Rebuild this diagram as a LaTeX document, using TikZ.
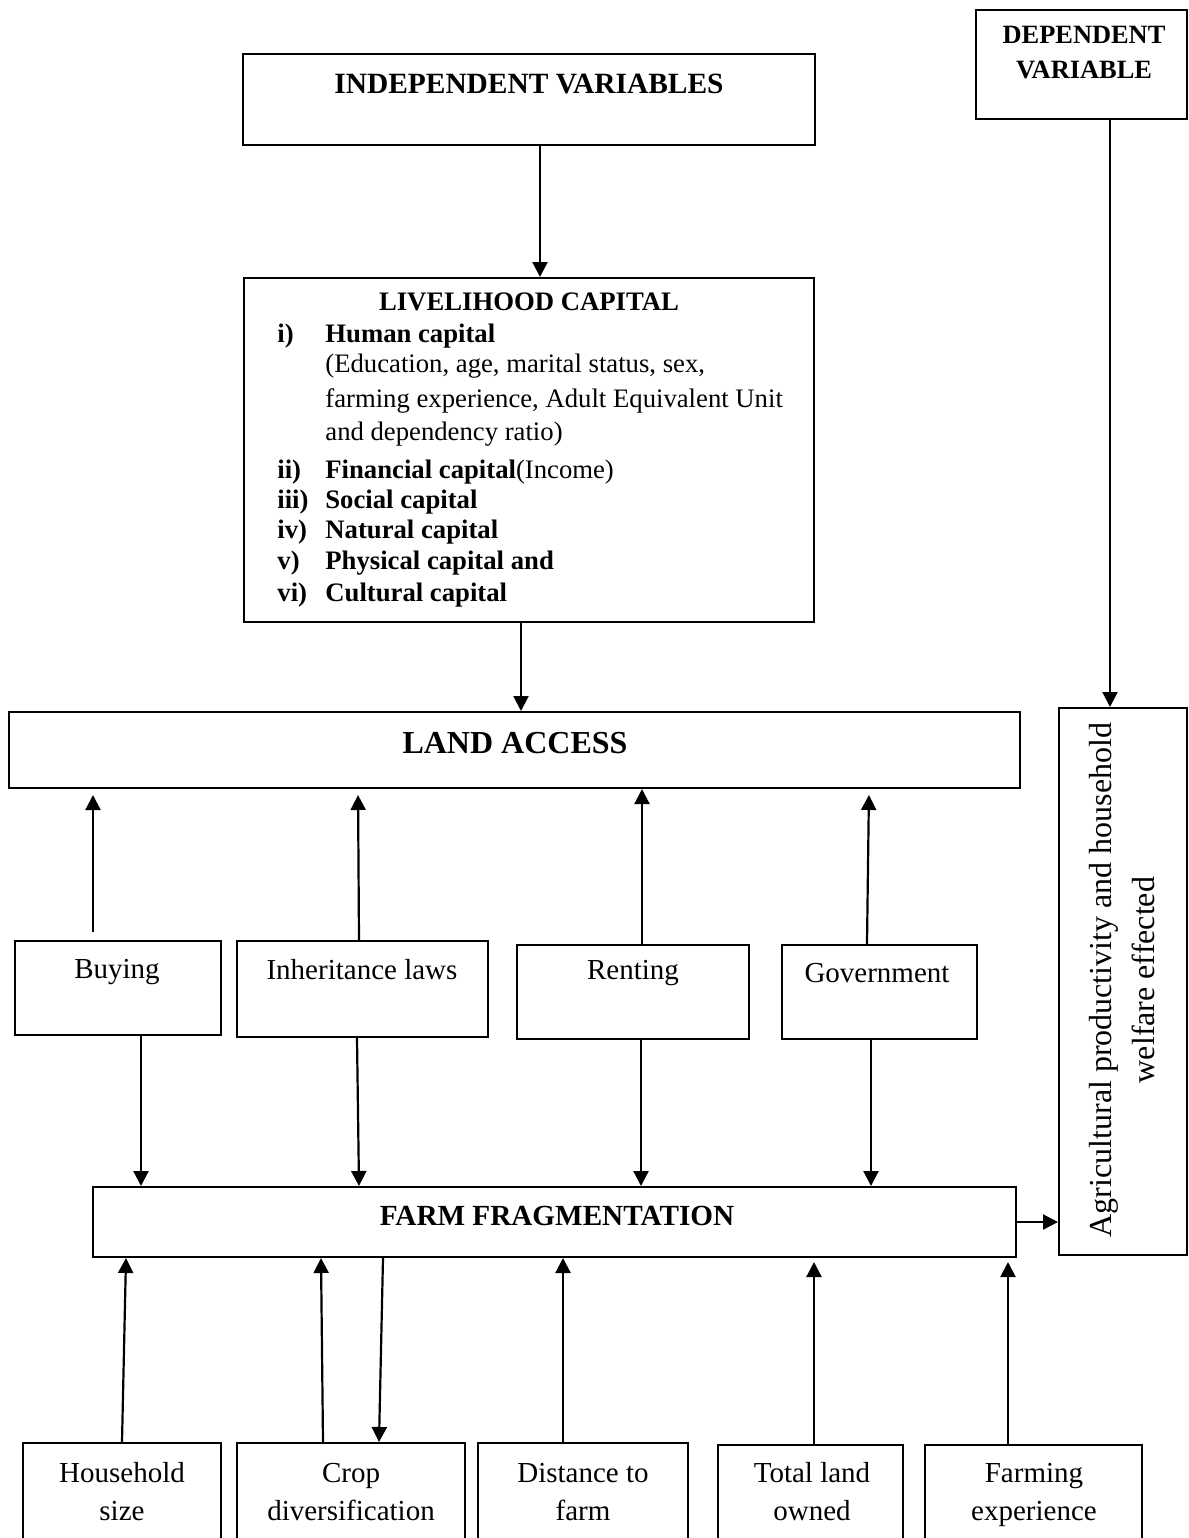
\documentclass[tikz,border=0pt]{standalone}
\usepackage{fontspec}
\setmainfont{Liberation Serif}
\usetikzlibrary{arrows.meta}
\begin{document}
\begin{tikzpicture}[x=0.5pt,y=-0.5pt,
  box/.style={draw, line width=1pt, inner sep=0pt},
  lbl/.style={inner sep=0pt, align=center},
  arr/.style={line width=1.1pt, -{Triangle[length=7.5pt,width=7.5pt]}},
  reg/.style={font=\fontsize{14.5}{19}\selectfont},
  hdr/.style={font=\fontsize{14.6}{18}\selectfont\bfseries},
  lv/.style={inner sep=0pt, anchor=west, text height=1.5ex, text depth=.25ex, font=\fontsize{13.35}{16}\selectfont}
]
\useasboundingbox (0,0) rectangle (1189,1538);
\clip (0,0) rectangle (1189,1538);

% boxes
\node[box, minimum width=286pt, minimum height=45.5pt] (indep) at (529,99.5) {};
\node[box, minimum width=285pt, minimum height=172pt] (live) at (529,450) {};
\node[box, minimum width=105.5pt, minimum height=54.5pt] (dep) at (1081.5,64.5) {};
\node[box, minimum width=505.5pt, minimum height=38pt] (land) at (514.5,750) {};
\node[box, minimum width=64pt, minimum height=273.5pt] (out) at (1123,981.5) {};
\node[box, minimum width=103pt, minimum height=47pt] (buy) at (118,988) {};
\node[box, minimum width=125.5pt, minimum height=48pt] (inh) at (362.5,989) {};
\node[box, minimum width=116pt, minimum height=47pt] (rent) at (633,992) {};
\node[box, minimum width=97.5pt, minimum height=47pt] (gov) at (879.5,992) {};
\node[box, minimum width=461.5pt, minimum height=35pt] (ff) at (554.5,1222) {};
\node[box, minimum width=99pt, minimum height=58.5pt] (hh) at (122,1501.5) {};
\node[box, minimum width=114pt, minimum height=58.5pt] (crop) at (351,1501.5) {};
\node[box, minimum width=105pt, minimum height=58.5pt] (dist) at (583,1501.5) {};
\node[box, minimum width=92.5pt, minimum height=57.5pt] (lown) at (810.5,1502.5) {};
\node[box, minimum width=108.5pt, minimum height=57.5pt] (fexp) at (1033.5,1502.5) {};

% texts
\node[lbl, font=\fontsize{14.7}{18}\selectfont\bfseries] (tindep) at (529,84) {INDEPENDENT VARIABLES};
\node[lbl, font=\fontsize{13.2}{17.5}\selectfont\bfseries] (tdep) at (1084,52.5) {DEPENDENT\\VARIABLE};
\node[lbl, font=\fontsize{16}{19}\selectfont\bfseries] (tland) at (515,743) {LAND ACCESS};
\node[lbl, hdr] (tff) at (557,1216) {FARM FRAGMENTATION};
\node[lbl, reg] (tbuy) at (117,972) {Buying};
\node[lbl, reg] (tinh) at (362,970) {Inheritance laws};
\node[lbl, reg] (trent) at (633,973) {Renting};
\node[lbl, reg] (tgov) at (877,973) {Government};
\node[lbl, reg] (thh) at (122,1494) {\strut Household\\size\strut};
\node[lbl, reg] (tcrop) at (351,1494) {\strut Crop\\diversification\strut};
\node[lbl, reg] (tdist) at (583,1494) {\strut Distance to\\farm\strut};
\node[lbl, reg] (tlown) at (812,1494) {\strut Total land\\owned\strut};
\node[lbl, reg] (tfexp) at (1034,1494) {\strut Farming\\experience\strut};
\node[lbl, rotate=90, font=\fontsize{16}{21.5}\selectfont] (tout) at (1122,980) {Agricultural productivity and household\\welfare effected};

% livelihood content
\node[lv, anchor=center, font=\fontsize{13.35}{16}\selectfont\bfseries] (lt) at (529,305) {LIVELIHOOD CAPITAL};
\node[lv, font=\fontsize{13.35}{16}\selectfont\bfseries] (l1) at (277,337) {i)};
\node[lv, font=\fontsize{13.35}{16}\selectfont\bfseries] (t1) at (325,337) {Human capital};
\node[lv] (t1a) at (325,367) {(Education, age, marital status, sex,};
\node[lv] (t1b) at (325,402) {farming experience, Adult Equivalent Unit};
\node[lv] (t1c) at (325,435) {and dependency ratio)};
\node[lv, font=\fontsize{13.35}{16}\selectfont\bfseries] (l2) at (277,473) {ii)};
\node[lv] (t2) at (325,473) {\textbf{Financial capital}(Income)};
\node[lv, font=\fontsize{13.35}{16}\selectfont\bfseries] (l3) at (277,503) {iii)};
\node[lv, font=\fontsize{13.35}{16}\selectfont\bfseries] (t3) at (325,503) {Social capital};
\node[lv, font=\fontsize{13.35}{16}\selectfont\bfseries] (l4) at (277,533) {iv)};
\node[lv, font=\fontsize{13.35}{16}\selectfont\bfseries] (t4) at (325,533) {Natural capital};
\node[lv, font=\fontsize{13.35}{16}\selectfont\bfseries] (l5) at (277,564) {v)};
\node[lv, font=\fontsize{13.35}{16}\selectfont\bfseries] (t5) at (325,564) {Physical capital and};
\node[lv, font=\fontsize{13.35}{16}\selectfont\bfseries] (l6) at (277,596) {vi)};
\node[lv, font=\fontsize{13.35}{16}\selectfont\bfseries] (t6) at (325,596) {Cultural capital};

% connectors
\draw[arr] (indep.south -| 540,0) -- (live.north -| 540,0);
\draw[arr] (live.south -| 521,0) -- (land.north -| 521,0);
\draw[arr] (dep.south -| 1110,0) -- (out.north -| 1110,0);

\draw[arr, shorten <=4pt, shorten >=3pt] (buy.north -| 93,0) -- (land.south -| 93,0);
\draw[arr, shorten >=3pt] (inh.north -| 359,0) -- (land.south -| 358,0);
\draw[arr] (rent.north -| 642,0) -- (land.south -| 642,0);
\draw[arr, shorten >=3pt] (gov.north -| 867,0) -- (land.south -| 869,0);

\draw[arr] (buy.south -| 141,0) -- (ff.north -| 141,0);
\draw[arr] (inh.south -| 357,0) -- (ff.north -| 359,0);
\draw[arr] (rent.south -| 641,0) -- (ff.north -| 641,0);
\draw[arr] (gov.south -| 871,0) -- (ff.north -| 871,0);

\draw[arr] (ff.east) -- (ff.east -| out.west);

\draw[arr] (hh.north -| 122,0) -- (ff.south -| 126,0);
\draw[arr] (crop.north -| 323,0) -- (ff.south -| 321,0);
\draw[arr] (ff.south -| 383,0) -- (crop.north -| 379,0);
\draw[arr] (dist.north -| 563,0) -- (ff.south -| 563,0);
\draw[arr, shorten >=2pt] (lown.north -| 814,0) -- (ff.south -| 814,0);
\draw[arr, shorten >=2pt] (fexp.north -| 1008,0) -- (ff.south -| 1008,0);
\end{tikzpicture}
\end{document}
